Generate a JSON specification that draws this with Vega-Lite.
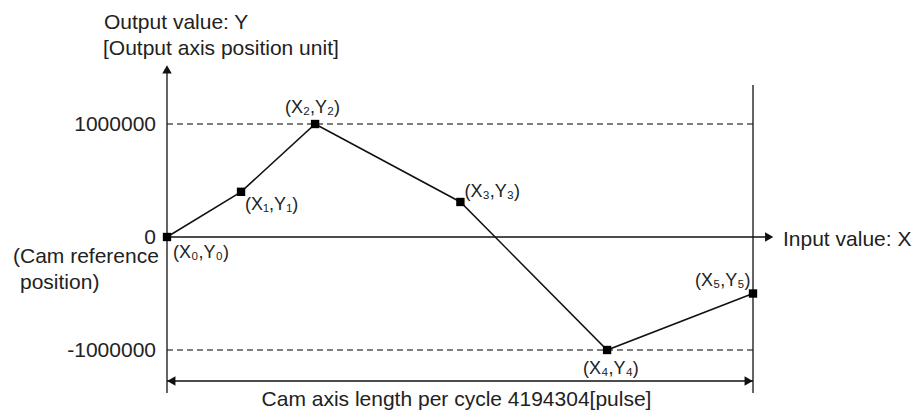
{
  "$schema": "https://vega.github.io/schema/vega-lite/v6.json",
  "width": 921,
  "height": 412,
  "autosize": {"type": "none"},
  "padding": 0,
  "background": "white",
  "config": {"view": {"stroke": null}, "text": {"font": "Liberation Sans", "color": "#222"}},
  "datasets": {
    "cam": [
      {"point": "0", "label": "(X₀,Y₀)", "x": 0, "y": 0},
      {"point": "1", "label": "(X₁,Y₁)", "x": 530000, "y": 400000},
      {"point": "2", "label": "(X₂,Y₂)", "x": 1060000, "y": 1000000},
      {"point": "3", "label": "(X₃,Y₃)", "x": 2100000, "y": 310000},
      {"point": "4", "label": "(X₄,Y₄)", "x": 3150000, "y": -1000000},
      {"point": "5", "label": "(X₅,Y₅)", "x": 4194304, "y": -500000}
    ],
    "solid": [
      {"part": "output axis", "x": 0, "y": -1380500, "x2": 0, "y2": 1477900},
      {"part": "input axis", "x": 0, "y": 0, "x2": 4305000, "y2": 0},
      {"part": "cycle end", "x": 4194304, "y": -1380500, "x2": 4194304, "y2": 1345100},
      {"part": "cycle length", "x": 0, "y": -1274300, "x2": 4194304, "y2": -1274300}
    ],
    "dashed": [
      {"x": 0, "x2": 4194304, "y": 1000000},
      {"x": 0, "x2": 4194304, "y": -1000000}
    ],
    "arrows": [
      {"x": 0, "y": 1484100, "dir": "up"},
      {"x": 4310259, "y": 0, "dir": "right"},
      {"x": 30777, "y": -1274300, "dir": "left"},
      {"x": 4163527, "y": -1274300, "dir": "right"}
    ],
    "ticks": [
      {"value": 1000000, "label": "1000000"},
      {"value": 0, "label": "0"},
      {"value": -1000000, "label": "-1000000"}
    ],
    "notesLeft": [
      {"text": "Output value: Y", "x": -450924, "y": 1840700},
      {"text": "[Output axis position unit]", "x": -458081, "y": 1610600},
      {"text": "(Cam reference", "x": -1102258, "y": -230000},
      {"text": "position)", "x": -1052155, "y": -460177},
      {"text": "Input value: X", "x": 4409032, "y": -79646}
    ],
    "notesCenter": [
      {"text": "Cam axis length per cycle 4194304[pulse]", "x": 2072102, "y": -1495575}
    ]
  },
  "layer": [
    {
      "data": {"name": "dashed"},
      "mark": {"type": "rule", "color": "#000", "strokeWidth": 1.2, "strokeDash": [6, 4]},
      "encoding": {
        "x": {"field": "x", "type": "quantitative", "scale": {"domain": [-1195303, 5396772], "nice": false, "zero": false}, "axis": null},
        "x2": {"field": "x2"},
        "y": {"field": "y", "type": "quantitative", "scale": {"domain": [-1548673, 2097345], "nice": false, "zero": false}, "axis": null}
      }
    },
    {
      "data": {"name": "solid"},
      "mark": {"type": "rule", "color": "#111", "strokeWidth": 1.3},
      "encoding": {
        "x": {"field": "x", "type": "quantitative", "scale": {"domain": [-1195303, 5396772], "nice": false, "zero": false}, "axis": null},
        "x2": {"field": "x2"},
        "y": {"field": "y", "type": "quantitative", "scale": {"domain": [-1548673, 2097345], "nice": false, "zero": false}, "axis": null},
        "y2": {"field": "y2"}
      }
    },
    {
      "data": {"name": "arrows"},
      "mark": {"type": "point", "filled": true, "color": "#111", "size": 90, "opacity": 1},
      "encoding": {
        "x": {"field": "x", "type": "quantitative", "scale": {"domain": [-1195303, 5396772], "nice": false, "zero": false}, "axis": null},
        "y": {"field": "y", "type": "quantitative", "scale": {"domain": [-1548673, 2097345], "nice": false, "zero": false}, "axis": null},
        "shape": {"field": "dir", "type": "nominal", "scale": {"domain": ["up", "right", "left"], "range": ["triangle-up", "triangle-right", "triangle-left"]}, "legend": null}
      }
    },
    {
      "data": {"name": "cam"},
      "mark": {"type": "line", "color": "#111", "strokeWidth": 1.5},
      "encoding": {
        "x": {"field": "x", "type": "quantitative", "scale": {"domain": [-1195303, 5396772], "nice": false, "zero": false}, "axis": null},
        "y": {"field": "y", "type": "quantitative", "scale": {"domain": [-1548673, 2097345], "nice": false, "zero": false}, "axis": null},
        "order": {"field": "x", "type": "quantitative"}
      }
    },
    {
      "data": {"name": "cam"},
      "mark": {"type": "square", "color": "#000", "size": 70, "opacity": 1},
      "encoding": {
        "x": {"field": "x", "type": "quantitative", "scale": {"domain": [-1195303, 5396772], "nice": false, "zero": false}, "axis": null},
        "y": {"field": "y", "type": "quantitative", "scale": {"domain": [-1548673, 2097345], "nice": false, "zero": false}, "axis": null}
      }
    },
    {"data": {"name": "cam"}, "transform": [{"filter": "datum.point == '0'"}],
      "mark": {"type": "text", "fontSize": 18, "align": "left", "baseline": "alphabetic", "dx": 6, "dy": 21},
      "encoding": {"x": {"field": "x", "type": "quantitative"}, "y": {"field": "y", "type": "quantitative"}, "text": {"field": "label"}}},
    {"data": {"name": "cam"}, "transform": [{"filter": "datum.point == '1'"}],
      "mark": {"type": "text", "fontSize": 18, "align": "left", "baseline": "alphabetic", "dx": 4, "dy": 18},
      "encoding": {"x": {"field": "x", "type": "quantitative"}, "y": {"field": "y", "type": "quantitative"}, "text": {"field": "label"}}},
    {"data": {"name": "cam"}, "transform": [{"filter": "datum.point == '2'"}],
      "mark": {"type": "text", "fontSize": 18, "align": "left", "baseline": "alphabetic", "dx": -30, "dy": -11},
      "encoding": {"x": {"field": "x", "type": "quantitative"}, "y": {"field": "y", "type": "quantitative"}, "text": {"field": "label"}}},
    {"data": {"name": "cam"}, "transform": [{"filter": "datum.point == '3'"}],
      "mark": {"type": "text", "fontSize": 18, "align": "left", "baseline": "alphabetic", "dx": 4, "dy": -5},
      "encoding": {"x": {"field": "x", "type": "quantitative"}, "y": {"field": "y", "type": "quantitative"}, "text": {"field": "label"}}},
    {"data": {"name": "cam"}, "transform": [{"filter": "datum.point == '4'"}],
      "mark": {"type": "text", "fontSize": 18, "align": "left", "baseline": "alphabetic", "dx": -24, "dy": 24},
      "encoding": {"x": {"field": "x", "type": "quantitative"}, "y": {"field": "y", "type": "quantitative"}, "text": {"field": "label"}}},
    {"data": {"name": "cam"}, "transform": [{"filter": "datum.point == '5'"}],
      "mark": {"type": "text", "fontSize": 18, "align": "left", "baseline": "alphabetic", "dx": -58, "dy": -7},
      "encoding": {"x": {"field": "x", "type": "quantitative"}, "y": {"field": "y", "type": "quantitative"}, "text": {"field": "label"}}},
    {
      "data": {"name": "ticks"},
      "mark": {"type": "text", "fontSize": 21, "align": "right", "baseline": "alphabetic", "dx": -11, "dy": 7},
      "encoding": {
        "x": {"datum": 0, "type": "quantitative"},
        "y": {"field": "value", "type": "quantitative"},
        "text": {"field": "label"}
      }
    },
    {
      "data": {"name": "notesLeft"},
      "mark": {"type": "text", "fontSize": 21, "align": "left", "baseline": "alphabetic"},
      "encoding": {
        "x": {"field": "x", "type": "quantitative"},
        "y": {"field": "y", "type": "quantitative"},
        "text": {"field": "text"}
      }
    },
    {
      "data": {"name": "notesCenter"},
      "mark": {"type": "text", "fontSize": 21, "align": "center", "baseline": "alphabetic"},
      "encoding": {
        "x": {"field": "x", "type": "quantitative"},
        "y": {"field": "y", "type": "quantitative"},
        "text": {"field": "text"}
      }
    }
  ]
}
